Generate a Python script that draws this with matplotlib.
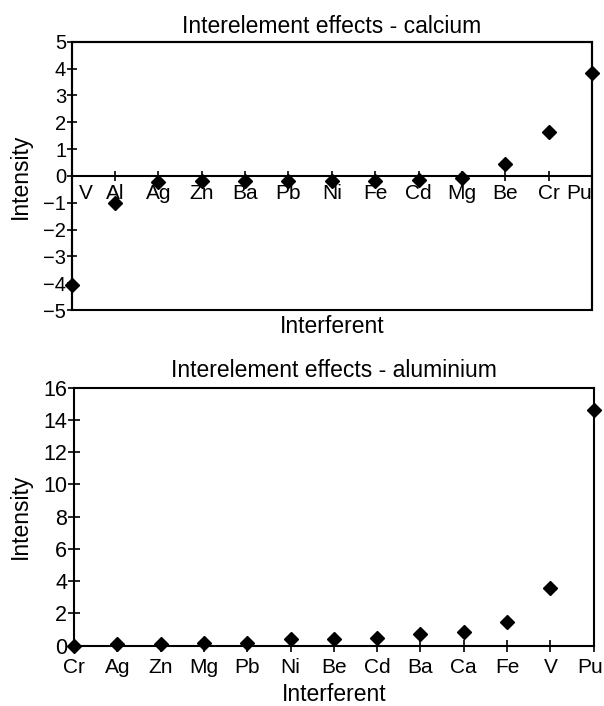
import matplotlib
matplotlib.use("Agg")
import matplotlib.pyplot as plt
from matplotlib.patches import Rectangle
from matplotlib.transforms import ScaledTranslation

plt.rcParams['font.family'] = ['Liberation Sans', 'DejaVu Sans']

# calcium panel
ca_elements = ['V', 'Al', 'Ag', 'Zn', 'Ba', 'Pb', 'Ni', 'Fe', 'Cd', 'Mg', 'Be', 'Cr', 'Pu']
ca_values = [-4.05, -1.0, -0.22, -0.2, -0.2, -0.2, -0.2, -0.2, -0.15, -0.09, 0.46, 1.65, 3.85]

# aluminium panel
al_elements = ['Cr', 'Ag', 'Zn', 'Mg', 'Pb', 'Ni', 'Be', 'Cd', 'Ba', 'Ca', 'Fe', 'V', 'Pu']
al_values = [0.0, 0.1, 0.1, 0.15, 0.15, 0.4, 0.4, 0.45, 0.7, 0.87, 1.5, 3.6, 14.65]

fig = plt.figure(figsize=(6.04, 7.06), dpi=100)
ax1 = fig.add_axes([0.1187, 0.5609, 0.8614, 0.380])
ax2 = fig.add_axes([0.1225, 0.0854, 0.8604, 0.3654])

lw = 1.5

# ---- top: calcium ----
x1 = range(len(ca_elements))
ax1.plot(x1, ca_values, 'D', color='black', markersize=7, clip_on=False, zorder=5)
ax1.set_xlim(0, len(ca_elements) - 1)
ax1.set_ylim(-5, 5)
ax1.set_yticks(range(-5, 6))
ax1.set_yticklabels([str(v).replace('-', '\u2212') for v in range(-5, 6)])
ax1.set_xticks(list(x1))
ax1.set_xticklabels(ca_elements)
ax1.spines['bottom'].set_position(('data', 0))
for s in ax1.spines.values():
    s.set_linewidth(lw)
ax1.add_patch(Rectangle((0, 0), 1, 1, transform=ax1.transAxes, fill=False,
                        lw=lw, edgecolor='black', clip_on=False, zorder=4))
ax1.tick_params(axis='x', direction='inout', length=7, width=1.2, pad=2, labelsize=15)
ax1.tick_params(axis='y', direction='inout', length=7, width=1.2, pad=0.5, labelsize=14.5)
lab_first = ax1.xaxis.get_ticklabels()[0]
lab_first.set_horizontalalignment('left')
lab_first.set_transform(lab_first.get_transform() + ScaledTranslation(5 / 72, 0, fig.dpi_scale_trans))
ax1.xaxis.get_ticklabels()[-1].set_horizontalalignment('right')
ax1.xaxis.get_majorticklines()[0].set_visible(False)
ax1.xaxis.get_majorticklines()[-2].set_visible(False)
ax1.set_title('Interelement effects - calcium', fontsize=16.5, pad=6)
ax1.set_xlabel('Interferent', fontsize=16.5)
ax1.xaxis.set_label_coords(0.5, -0.02)
ax1.set_ylabel('Intensity', fontsize=16.5)
ax1.yaxis.set_label_coords(-0.076, 0.5)

# ---- bottom: aluminium ----
x2 = range(len(al_elements))
ax2.plot(x2, al_values, 'D', color='black', markersize=7, clip_on=False, zorder=5)
ax2.set_xlim(0, len(al_elements) - 1)
ax2.set_ylim(0, 16)
ax2.set_yticks(range(0, 17, 2))
ax2.set_xticks(list(x2))
ax2.set_xticklabels(al_elements)
for s in ax2.spines.values():
    s.set_linewidth(lw)
ax2.tick_params(axis='x', direction='inout', length=8, width=1.2, pad=5, labelsize=15)
ax2.tick_params(axis='y', direction='inout', length=8, width=1.2, pad=1, labelsize=15.5)
lab_last = ax2.xaxis.get_ticklabels()[-1]
lab_last.set_transform(lab_last.get_transform() + ScaledTranslation(-2.5 / 72, 0, fig.dpi_scale_trans))
ax2.set_title('Interelement effects - aluminium', fontsize=16.5, pad=8)
ax2.set_xlabel('Interferent', fontsize=16.5, labelpad=4)
ax2.set_ylabel('Intensity', fontsize=16.5)
ax2.yaxis.set_label_coords(-0.081, 0.5)

fig.savefig('out.png', dpi=100)
